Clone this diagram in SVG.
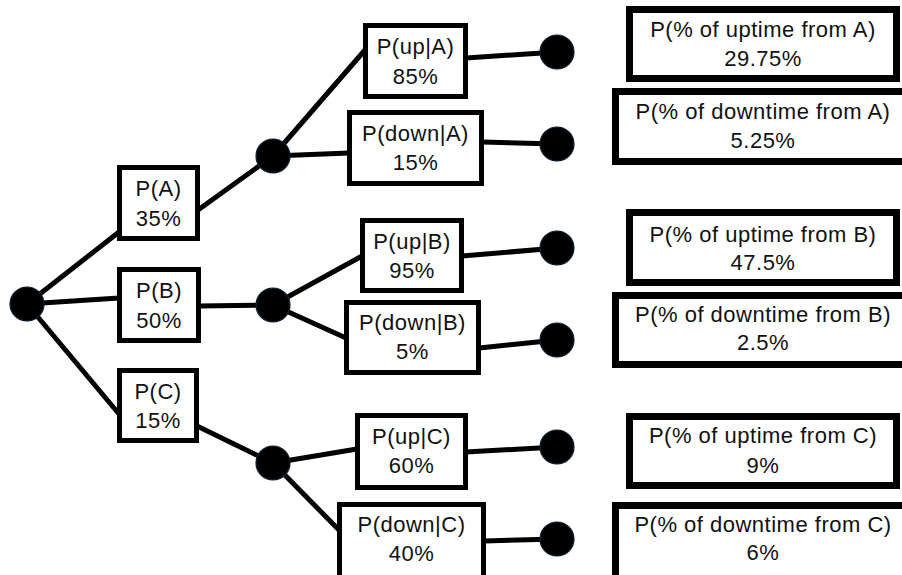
<svg xmlns="http://www.w3.org/2000/svg" width="902" height="575" viewBox="0 0 902 575">
  <style>
    .box { fill: #fff; stroke: #000; stroke-width: 5; }
    .res { fill: #fff; stroke: #000; stroke-width: 7; }
    .dot { fill: #000; stroke: #0d2230; stroke-width: 1.2; }
    .edge { stroke: #000; stroke-width: 5; fill: none; stroke-linecap: round; }
    text { font-family: "Liberation Sans", Arial, sans-serif; font-size: 22px; fill: #111; text-anchor: middle; letter-spacing: 0.5px; }
  </style>
  <rect width="902" height="575" fill="#fff"/>

  <!-- branches -->
  <g id="connectors">
    <line class="edge" x1="27" y1="304" x2="119" y2="232"/>
    <line class="edge" x1="27" y1="304" x2="119" y2="298"/>
    <line class="edge" x1="27" y1="304" x2="119" y2="414"/>
    <line class="edge" x1="198" y1="210" x2="273" y2="156"/>
    <line class="edge" x1="199" y1="306" x2="273" y2="305"/>
    <line class="edge" x1="197" y1="426" x2="273" y2="463"/>
    <line class="edge" x1="273" y1="156" x2="365" y2="50"/>
    <line class="edge" x1="273" y1="156" x2="349" y2="153"/>
    <line class="edge" x1="466" y1="58" x2="557" y2="52"/>
    <line class="edge" x1="482" y1="142" x2="557" y2="144"/>
    <line class="edge" x1="273" y1="305" x2="362" y2="256"/>
    <line class="edge" x1="273" y1="305" x2="346" y2="338"/>
    <line class="edge" x1="462" y1="256" x2="557" y2="248"/>
    <line class="edge" x1="479" y1="348" x2="557" y2="340"/>
    <line class="edge" x1="273" y1="463" x2="357" y2="449"/>
    <line class="edge" x1="273" y1="463" x2="339" y2="530"/>
    <line class="edge" x1="466" y1="452" x2="557" y2="447"/>
    <line class="edge" x1="484" y1="541" x2="557" y2="539"/>
  </g>

  <!-- chance points -->
  <g id="root"><circle class="dot" cx="27" cy="304" r="17"/></g>
  <g id="nodeA"><circle class="dot" cx="273" cy="156" r="17"/></g>
  <g id="nodeB"><circle class="dot" cx="273" cy="305" r="17"/></g>
  <g id="nodeC"><circle class="dot" cx="273" cy="463" r="17"/></g>
  <g id="endAup"><circle class="dot" cx="557" cy="52" r="17"/></g>
  <g id="endAdown"><circle class="dot" cx="557" cy="144" r="17"/></g>
  <g id="endBup"><circle class="dot" cx="557" cy="248" r="17"/></g>
  <g id="endBdown"><circle class="dot" cx="557" cy="340" r="17"/></g>
  <g id="endCup"><circle class="dot" cx="557" cy="447" r="17"/></g>
  <g id="endCdown"><circle class="dot" cx="557" cy="539" r="17"/></g>

  <!-- first-level probabilities -->
  <g id="pA">
    <rect class="box" x="119.5" y="167.5" width="78" height="71"/>
    <text x="158.5" y="196">P(A)</text>
    <text x="158.5" y="226">35%</text>
  </g>
  <g id="pB">
    <rect class="box" x="119.5" y="269.5" width="79" height="71"/>
    <text x="159" y="298">P(B)</text>
    <text x="159" y="328">50%</text>
  </g>
  <g id="pC">
    <rect class="box" x="119.5" y="370.5" width="77" height="70"/>
    <text x="158" y="398.5">P(C)</text>
    <text x="158" y="428">15%</text>
  </g>

  <!-- conditional probabilities -->
  <g id="pUpA">
    <rect class="box" x="365.5" y="25.5" width="100" height="71"/>
    <text x="415.5" y="54">P(up|A)</text>
    <text x="415.5" y="84">85%</text>
  </g>
  <g id="pDownA">
    <rect class="box" x="349.5" y="112.5" width="132" height="71"/>
    <text x="415.5" y="141">P(down|A)</text>
    <text x="415.5" y="170">15%</text>
  </g>
  <g id="pUpB">
    <rect class="box" x="362.5" y="220.5" width="99" height="70"/>
    <text x="412" y="249">P(up|B)</text>
    <text x="412" y="278">95%</text>
  </g>
  <g id="pDownB">
    <rect class="box" x="346.5" y="302.5" width="132" height="70"/>
    <text x="412.5" y="330">P(down|B)</text>
    <text x="412.5" y="359">5%</text>
  </g>
  <g id="pUpC">
    <rect class="box" x="357.5" y="415.5" width="108" height="72"/>
    <text x="411.5" y="444">P(up|C)</text>
    <text x="411.5" y="473">60%</text>
  </g>
  <g id="pDownC">
    <rect class="box" x="339.5" y="504.5" width="144" height="74"/>
    <text x="411.5" y="532">P(down|C)</text>
    <text x="411.5" y="561">40%</text>
  </g>

  <!-- joint probabilities -->
  <g id="resUpA">
    <rect class="res" x="629.5" y="9.5" width="267" height="69"/>
    <text x="763" y="37">P(% of uptime from A)</text>
    <text x="763" y="66">29.75%</text>
  </g>
  <g id="resDownA">
    <rect class="res" x="615.5" y="91.5" width="300" height="70"/>
    <text x="763" y="119">P(% of downtime from A)</text>
    <text x="763" y="148">5.25%</text>
  </g>
  <g id="resUpB">
    <rect class="res" x="629.5" y="212.5" width="267" height="70"/>
    <text x="763" y="241.5">P(% of uptime from B)</text>
    <text x="763" y="270">47.5%</text>
  </g>
  <g id="resDownB">
    <rect class="res" x="615.5" y="295.5" width="300" height="69"/>
    <text x="763" y="322">P(% of downtime from B)</text>
    <text x="763" y="350">2.5%</text>
  </g>
  <g id="resUpC">
    <rect class="res" x="629.5" y="416.5" width="267" height="69"/>
    <text x="763" y="443">P(% of uptime from C)</text>
    <text x="763" y="473">9%</text>
  </g>
  <g id="resDownC">
    <rect class="res" x="615.5" y="505.5" width="300" height="75"/>
    <text x="763" y="532">P(% of downtime from C)</text>
    <text x="763" y="560">6%</text>
  </g>
</svg>
